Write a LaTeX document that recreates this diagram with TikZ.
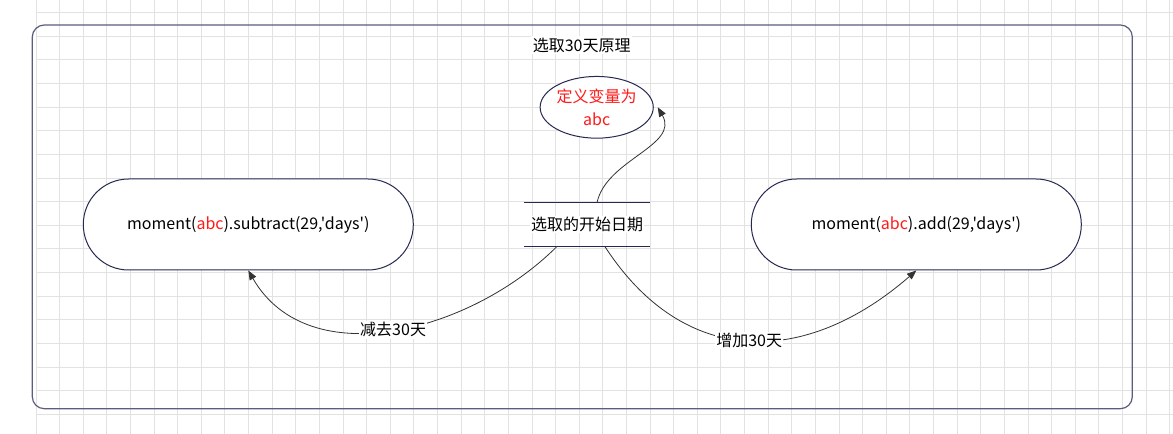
\documentclass[tikz,border=0pt]{standalone}
\usepackage{fontspec}
\setmainfont{Noto Sans CJK SC}[Ligatures=TeXOff]
\usetikzlibrary{arrows.meta,shapes.geometric}

\definecolor{gridgray}{HTML}{E2E2E2}
\definecolor{framenavy}{HTML}{5A5E7E}
\definecolor{shapenavy}{HTML}{262A52}
\definecolor{abcred}{HTML}{FF1A1A}
\definecolor{linkgray}{HTML}{333333}

\tikzset{
  gridline/.style={color=gridgray,line width=0.75pt},
  framebox/.style={draw=framenavy,line width=0.9pt,rounded corners=9pt},
  pillbox/.style={draw=shapenavy,fill=white,line width=0.75pt,rounded corners=34pt,
    minimum width=247.5pt,minimum height=68.25pt,font=\fontsize{12pt}{15pt}\selectfont},
  varellipse/.style={ellipse,draw=shapenavy,fill=white,line width=0.75pt,inner sep=0pt,
    minimum width=78.5pt,minimum height=46.3pt,align=center,text=abcred,
    font=\fontsize{12pt}{17.25pt}\selectfont},
  storetext/.style={fill=white,inner sep=1pt,font=\fontsize{12pt}{15pt}\selectfont},
  storeline/.style={draw=shapenavy,line width=1pt},
  labelbox/.style={fill=white,inner sep=1pt,font=\fontsize{12pt}{15pt}\selectfont},
  link/.style={draw=linkgray,line width=0.6pt,-{Triangle[length=7pt,width=5.5pt]}}
}

\begin{document}
\begin{tikzpicture}[x=0.75pt,y=0.75pt]
\useasboundingbox [fill=white] (0, 0) rectangle (1173, -434);

\foreach \i in {0,...,48}
  \draw [gridline] (36+23.62*\i, 0) -- (36+23.62*\i, -434);
\foreach \j in {0,...,17}
  \draw [gridline] (36, -12.7-23.62*\j) -- (1173, -12.7-23.62*\j);

\draw [framebox] (32.3, -25) rectangle (1132.3, -408.7);
\node (title) at (581.7, -45) [labelbox] {选取30天原理};

\node (def) at (596.7, -107.3) [varellipse] {定义变量为\\abc};
\node (store) at (587, -224.7) [storetext] {选取的开始日期};
\draw [storeline] ([shift={(-62.7,22)}]store.center) -- ([shift={(63,22)}]store.center);
\draw [storeline] ([shift={(-62.7,-22)}]store.center) -- ([shift={(63,-22)}]store.center);
\node (sub) at (248.3, -224.5) [pillbox] {moment(\textcolor{abcred}{abc}).subtract(29,'days')};
\node (add) at (916.3, -224.5) [pillbox] {moment(\textcolor{abcred}{abc}).add(29,'days')};

\draw [link] ([shift={(10,22)}]store.center) to [out=78, in=-60] ([xshift=3pt]def.east);
\draw [link] ([shift={(-30.3,-22)}]store.center) to [out=225, in=-60]
  node (minus) [labelbox] {减去30天} (sub.south);
\draw [link] ([shift={(18,-22)}]store.center) to [out=-57, in=-139, looseness=1.2]
  node (plus) [labelbox] {增加30天} (add.south);
\end{tikzpicture}
\end{document}
